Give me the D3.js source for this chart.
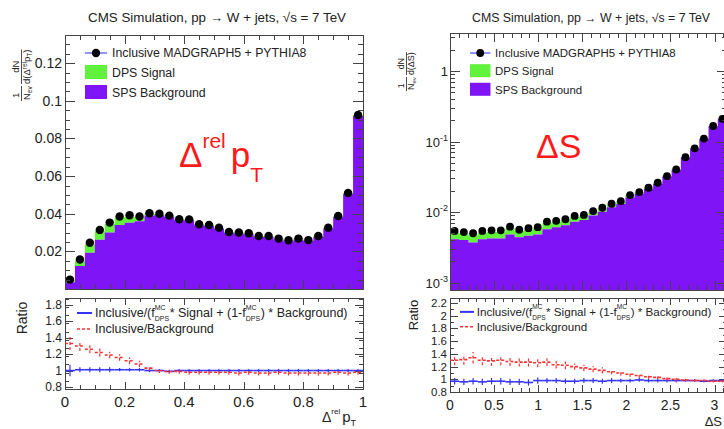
<!DOCTYPE html>
<html><head><meta charset="utf-8">
<script src="https://cdn.jsdelivr.net/npm/d3@7"></script>
<style>
body{margin:0;background:#fff;}
svg{display:block;font-family:"Liberation Sans",Arial,Helvetica,sans-serif;}
</style></head><body>
<svg id="c" width="724" height="429"></svg>
<script>
// ---------------- data ----------------
const titleText = "CMS Simulation, pp \u2192 W + jets, \u221As = 7 TeV";
const legendLabels = ["Inclusive MADGRAPH5 + PYTHIA8", "DPS Signal", "SPS Background"];
const ratioLegendBkg = "Inclusive/Background";

// Δrel pT : 30 bins on [0,1]
const relptInclusive = [0.0050,0.0157,0.0246,0.0314,0.0353,0.0385,0.0392,0.0385,0.0403,0.0400,0.0390,0.0371,0.0370,0.0344,0.0340,0.0326,0.0303,0.0300,0.0296,0.0282,0.0282,0.0268,0.0259,0.0268,0.0260,0.0282,0.0326,0.0388,0.0510,0.0925];
const relptSPS = [0.0036,0.0122,0.0193,0.0262,0.0300,0.0340,0.0352,0.0360,0.0390,0.0392,0.0384,0.0366,0.0365,0.0339,0.0335,0.0321,0.0298,0.0295,0.0291,0.0277,0.0277,0.0263,0.0254,0.0263,0.0255,0.0277,0.0321,0.0383,0.0505,0.0920];
const relptDPS = [0.0012,0.0030,0.0045,0.0045,0.0045,0.0040,0.0032,0.0023,0.0011,0.0006,0.0005,0.0005,0.0005,0.0005,0.0005,0.0005,0.0005,0.0005,0.0005,0.0005,0.0005,0.0005,0.0005,0.0005,0.0005,0.0005,0.0005,0.0005,0.0005,0.0005];
const relptRatioFit = [1.00,1.01,1.01,1.01,1.01,1.01,1.01,1.01,1.00,1.00,0.99,1.00,1.00,1.00,1.00,1.00,1.00,1.00,1.00,1.00,1.00,1.00,1.00,1.00,1.00,1.00,1.00,1.00,1.00,1.00];
const relptRatioFitErr = [0.07,0.03,0.03,0.03,0.03,0.02,0.02,0.02,0.02,0.02,0.02,0.02,0.02,0.02,0.02,0.02,0.02,0.02,0.02,0.02,0.02,0.02,0.02,0.02,0.02,0.02,0.02,0.02,0.02,0.02];
const relptRatioBkg = [1.33,1.30,1.26,1.22,1.19,1.16,1.12,1.08,1.03,1.00,0.99,0.99,0.98,0.98,0.98,0.98,0.98,0.97,0.98,0.97,0.97,0.98,0.97,0.97,0.97,0.97,0.97,0.98,0.97,0.98];
const relptRatioBkgErr = [0.08,0.06,0.05,0.05,0.04,0.04,0.04,0.04,0.03,0.03,0.03,0.03,0.03,0.03,0.03,0.03,0.03,0.03,0.03,0.03,0.03,0.03,0.03,0.03,0.03,0.03,0.03,0.03,0.03,0.03];
const relptYTicks = [0.02,0.04,0.06,0.08,0.1,0.12];
const relptXTicks = [0,0.2,0.4,0.6,0.8,1];
const relptRatioTicks = [0.8,1,1.2,1.4,1.6,1.8];

// ΔS : 30 bins on [0,π]
const dsInclusive = [0.0054,0.0052,0.0050,0.0054,0.0055,0.0055,0.0062,0.0056,0.0059,0.0061,0.0073,0.0075,0.0079,0.0088,0.0091,0.0103,0.0115,0.0131,0.0143,0.0174,0.0192,0.0221,0.0260,0.0323,0.0401,0.0600,0.0800,0.110,0.166,0.210];
const dsSPS = [0.0041,0.0040,0.0037,0.0041,0.0042,0.0042,0.0048,0.0044,0.0046,0.0048,0.0057,0.0061,0.0065,0.0073,0.0077,0.0089,0.0101,0.0117,0.0130,0.0161,0.0181,0.0212,0.0252,0.0318,0.0396,0.0595,0.0795,0.109,0.165,0.208];
const dsDPS = [0.0010,0.0010,0.0010,0.0010,0.0010,0.0010,0.0011,0.0010,0.0010,0.0011,0.0012,0.0012,0.0012,0.0012,0.0012,0.0012,0.0012,0.0012,0.0012,0.0012,0.0011,0.0010,0.0009,0.0008,0.0007,0.0006,0.0005,0.0005,0.0004,0.0004];
const dsRatioFit = [0.97,0.96,0.97,0.96,0.97,0.97,0.96,0.96,0.95,0.98,0.98,0.98,0.97,0.97,0.98,0.98,0.97,0.98,0.98,0.98,0.99,0.98,0.98,0.98,0.98,0.98,0.98,0.97,0.98,0.98];
const dsRatioFitErr = [0.05,0.05,0.05,0.05,0.05,0.05,0.05,0.05,0.05,0.05,0.04,0.04,0.04,0.04,0.04,0.04,0.04,0.04,0.03,0.03,0.03,0.03,0.03,0.03,0.03,0.02,0.02,0.02,0.02,0.02];
const dsRatioBkg = [1.30,1.31,1.34,1.30,1.29,1.30,1.28,1.27,1.27,1.26,1.27,1.23,1.22,1.20,1.18,1.16,1.14,1.12,1.10,1.08,1.06,1.04,1.03,1.01,1.00,0.99,0.98,0.98,0.97,0.97];
const dsRatioBkgErr = [0.08,0.08,0.09,0.08,0.08,0.08,0.07,0.07,0.07,0.07,0.06,0.06,0.06,0.05,0.05,0.05,0.05,0.04,0.04,0.04,0.04,0.03,0.03,0.03,0.03,0.03,0.02,0.02,0.02,0.02];
const dsYTicks = [1e-3,1e-2,1e-1,1];
const dsYTickLabels = [["10","-3"],["10","-2"],["10","-1"],["1",""]];
const dsXTicks = [0,0.5,1,1.5,2,2.5,3];
const dsRatioTicks = [0.8,1,1.2,1.4,1.6,1.8,2,2.2];

// ---------------- drawing ----------------
const PURPLE = "#7f14f7", GREEN = "#63f23c", FRAME = "#444";
const svg = d3.select("#c");

function rich(g, x, y, pieces, color, anchorEnd) {
  const grp = g.append("g");
  let cx = 0;
  pieces.forEach(p => {
    if (p.sup !== undefined) {
      const a = grp.append("text").attr("x", cx).attr("y", -p.up).attr("font-size", p.size).attr("fill", color).text(p.sup);
      const b = grp.append("text").attr("x", cx).attr("y", p.down).attr("font-size", p.size).attr("fill", color).text(p.sub);
      cx += Math.max(a.node().getComputedTextLength(), b.node().getComputedTextLength()) + (p.gap || 0.5);
    } else {
      const t = grp.append("text").attr("x", cx).attr("y", p.dy || 0).attr("font-size", p.size).attr("fill", color).text(p.t);
      cx += t.node().getComputedTextLength() + (p.gap || 0);
    }
  });
  grp.attr("transform", `translate(${anchorEnd ? x - cx : x},${y})`);
  return cx;
}

function drawPanel(o) {
  const g = svg.append("g");
  const n = o.inc.length;
  const edges = d3.range(n + 1).map(i => o.xMax * i / n);
  const x = d3.scaleLinear().domain([0, o.xMax]).range([o.x0, o.x1]);
  const y = o.log ? d3.scaleLog().domain(o.yDom).range([o.yb, o.yt])
                  : d3.scaleLinear().domain(o.yDom).range([o.yb, o.yt]);
  const r = d3.scaleLinear().domain(o.rDom).range([o.rb, o.rt]);

  // stacked histogram
  const stack = d3.stack().keys(["sps", "dps"])(o.sps.map((v, i) => ({sps: v, dps: o.dps[i]})));
  const stepPts = s => s.map((d, i) => ({x0: edges[i], x1: edges[i + 1], lo: d[0], hi: d[1]}));
  const area = d3.area().curve(d3.curveStepAfter)
    .x(d => x(d.e)).y0(d => d.lo <= 0 ? o.yb : y(d.lo)).y1(d => y(d.hi));
  const expand = pts => { const a = pts.map(p => ({e: p.x0, lo: p.lo, hi: p.hi})); const l = pts[pts.length - 1]; a.push({e: l.x1, lo: l.lo, hi: l.hi}); return a; };
  g.append("path").attr("d", area(expand(stepPts(stack[1])))).attr("fill", GREEN);
  g.append("path").attr("d", area(expand(stepPts(stack[0])))).attr("fill", PURPLE);

  // points
  g.selectAll(".pt").data(o.inc).join("circle")
    .attr("cx", (d, i) => x((edges[i] + edges[i + 1]) / 2)).attr("cy", d => y(d))
    .attr("r", o.dotR).attr("fill", "#000");

  // frames
  [[o.yt, o.yb], [o.rt, o.rb]].forEach(([t, b]) => {
    g.append("rect").attr("x", o.x0 + 0.5).attr("y", t + 0.5).attr("width", o.x1 - o.x0).attr("height", b - t)
      .attr("fill", "none").attr("stroke", FRAME).attr("stroke-width", 1);
  });
  const tick = (x1, y1, x2, y2) => g.append("line").attr("x1", x1).attr("y1", y1).attr("x2", x2).attr("y2", y2).attr("stroke", FRAME).attr("stroke-width", 1);
  const xMinor = d3.range(0, o.xMax + 1e-9, o.xMinorStep);
  const xMajor = d3.range(0, o.xMax + 1e-9, o.xMajorStep);
  [[o.yt, o.yb, 9, 5], [o.rt, o.rb, 7, 4]].forEach(([t, b, L, l]) => {
    xMinor.forEach(v => { const px = Math.round(x(v)) + 0.5; tick(px, b, px, b - l); tick(px, t, px, t + l); });
    xMajor.forEach(v => { const px = Math.round(x(v)) + 0.5; tick(px, b, px, b - L); tick(px, t, px, t + L); });
  });
  const yMinor = o.log ? o.logMinor : d3.range(0, o.yDom[1], o.yMinorStep);
  yMinor.forEach(v => { const py = Math.round(y(v)) + 0.5; if (py < o.yt || py > o.yb) return; tick(o.x0, py, o.x0 + 5, py); tick(o.x1, py, o.x1 - 5, py); });
  o.yTicks.forEach(v => { const py = Math.round(y(v)) + 0.5; tick(o.x0, py, o.x0 + 10, py); tick(o.x1, py, o.x1 - 10, py); });
  d3.range(o.rDom[0], o.rDom[1], 0.1).forEach(v => { const py = Math.round(r(v)) + 0.5; if (py < o.rt || py > o.rb) return; tick(o.x0, py, o.x0 + 4, py); tick(o.x1, py, o.x1 - 4, py); });
  o.rTicks.forEach(v => { const py = Math.round(r(v)) + 0.5; tick(o.x0, py, o.x0 + 8, py); tick(o.x1, py, o.x1 - 8, py); });

  // ratio points
  const drawRatio = (vals, errs, color, dash) => {
    vals.forEach((v, i) => {
      const xa = x(edges[i]), xb = x(edges[i + 1]), xc = (xa + xb) / 2;
      g.append("line").attr("x1", xa).attr("x2", xb).attr("y1", r(v)).attr("y2", r(v))
        .attr("stroke", color).attr("stroke-width", 1.6).attr("stroke-dasharray", dash);
      g.append("line").attr("x1", xc).attr("x2", xc).attr("y1", r(v - errs[i])).attr("y2", r(v + errs[i]))
        .attr("stroke", color).attr("stroke-width", 1.2).attr("stroke-dasharray", dash);
    });
  };
  drawRatio(o.rFit, o.rFitErr, "#3434ff", null);
  drawRatio(o.rBkg, o.rBkgErr, "#ff3030", "3,2");

  // tick labels
  o.yTicks.forEach((v, i) => {
    if (o.log) {
      const [base, ex] = o.yTickLabels[i];
      const py = y(v) + 5;
      rich(g, o.x0 - 2, py, ex ? [{t: base, size: 13}, {t: ex, size: 9, dy: -6}] : [{t: base, size: 13}], "#222", true);
    } else {
      g.append("text").attr("x", o.x0 - 3).attr("y", y(v) + 5).attr("text-anchor", "end").attr("font-size", o.yLabSize).attr("fill", "#222").text(d3.format("~g")(v));
    }
  });
  o.rTicks.forEach(v => {
    g.append("text").attr("x", o.x0 - 3).attr("y", r(v) + 4).attr("text-anchor", "end").attr("font-size", o.rLabSize).attr("fill", "#222").text(d3.format("~g")(v));
  });
  o.xTicks.forEach(v => {
    g.append("text").attr("x", x(v)).attr("y", o.rb + 18).attr("text-anchor", "middle").attr("font-size", o.xLabSize).attr("fill", "#222").text(d3.format("~g")(v));
  });

  // title
  g.append("text").attr("x", o.titleX).attr("y", 22).attr("text-anchor", "middle").attr("font-size", o.titleSize).attr("fill", "#222")
    .attr("textLength", o.titleW).attr("lengthAdjust", "spacingAndGlyphs").text(titleText);

  // legend main
  const lx = o.legX, s = o.legScale;
  g.append("line").attr("x1", lx).attr("x2", lx + 22 * s).attr("y1", o.legY).attr("y2", o.legY).attr("stroke", "#4b4bff").attr("stroke-width", 1.2);
  g.append("circle").attr("cx", lx + 11 * s).attr("cy", o.legY).attr("r", o.dotR).attr("fill", "#000");
  g.append("rect").attr("x", lx).attr("y", o.legY + 12 * s).attr("width", 22 * s).attr("height", 14 * s).attr("fill", GREEN);
  g.append("rect").attr("x", lx).attr("y", o.legY + 32 * s).attr("width", 22 * s).attr("height", 14 * s).attr("fill", PURPLE);
  legendLabels.forEach((t, i) => {
    g.append("text").attr("x", lx + 27 * s).attr("y", o.legY + 4 * s + i * 20 * s).attr("font-size", 12.3 * s).attr("fill", "#222").text(t);
  });

  // ratio legend
  const ry = o.rt + 16 * s;
  g.append("line").attr("x1", o.rLegX).attr("x2", o.rLegX + 15 * s).attr("y1", ry - 1).attr("y2", ry - 1).attr("stroke", "#3434ff").attr("stroke-width", 2);
  g.append("line").attr("x1", o.rLegX).attr("x2", o.rLegX + 15 * s).attr("y1", ry + 16 * s - 1).attr("y2", ry + 16 * s - 1).attr("stroke", "#ff3030").attr("stroke-width", 1.5).attr("stroke-dasharray", "3,2");
  const fs = 12.5 * s, ss = 7 * s;
  rich(g, o.rLegX + 18 * s, ry + 3, [
    {t: "Inclusive/(f", size: fs},
    {sup: "MC", sub: "DPS", size: ss, up: 7 * s, down: 4 * s},
    {t: " * Signal + (1-f", size: fs},
    {sup: "MC", sub: "DPS", size: ss, up: 7 * s, down: 4 * s},
    {t: ") * Background)", size: fs}
  ], "#222", false);
  g.append("text").attr("x", o.rLegX + 18 * s).attr("y", ry + 16 * s + 3).attr("font-size", fs).attr("fill", "#222").text(ratioLegendBkg);

  // "Ratio" axis title
  g.append("text").attr("transform", `translate(${o.ratioTitleX},${o.ratioTitleY}) rotate(-90)`).attr("text-anchor", "middle")
    .attr("font-size", 14 * s).attr("fill", "#222").text("Ratio");

  // main y-axis title (rotated fraction)
  const yt = g.append("g").attr("transform", `translate(${o.yTitleX},${o.yTitleY}) rotate(-90)`);
  const f = 9.5 * s;
  yt.append("text").attr("x", 2 * s).attr("y", -2).attr("font-size", f).attr("fill", "#222").text("1");
  yt.append("line").attr("x1", -1).attr("x2", 14 * s).attr("y1", 0.5).attr("y2", 0.5).attr("stroke", "#222").attr("stroke-width", 0.8);
  rich(yt, 0, 9 * s, [{t: "N", size: f}, {t: "ev", size: 6.5 * s, dy: 2}], "#222", false);
  const startX = 16 * s;
  const w = rich(yt, startX, 9 * s, [{t: "d(", size: f}].concat(o.varPieces).concat([{t: ")", size: f}]), "#222", false);
  yt.append("line").attr("x1", startX).attr("x2", startX + w).attr("y1", 0.5).attr("y2", 0.5).attr("stroke", "#222").attr("stroke-width", 0.8);
  yt.append("text").attr("x", startX + w / 2).attr("y", -2).attr("text-anchor", "middle").attr("font-size", f).attr("fill", "#222").text("dN");

  return {g, x, y, r};
}

// left panel
drawPanel({
  inc: relptInclusive, sps: relptSPS, dps: relptDPS,
  rFit: relptRatioFit, rFitErr: relptRatioFitErr, rBkg: relptRatioBkg, rBkgErr: relptRatioBkgErr,
  xMax: 1, x0: 65, x1: 363, yt: 35, yb: 289, rt: 298, rb: 389,
  yDom: [0, 0.135], rDom: [0.775, 1.885], log: false,
  xMinorStep: 0.05, xMajorStep: 0.2, yMinorStep: 0.005,
  yTicks: relptYTicks, rTicks: relptRatioTicks, xTicks: relptXTicks,
  yLabSize: 14, rLabSize: 12, xLabSize: 15,
  titleX: 217, titleSize: 13, titleW: 258,
  legX: 85, legY: 53, legScale: 1, dotR: 4.2,
  rLegX: 77, ratioTitleX: 27, ratioTitleY: 318,
  yTitleX: 21, yTitleY: 100,
  varPieces: [{t: "\u0394", size: 9.5}, {t: "rel", size: 6.5, dy: -3}, {t: " p", size: 9.5}, {t: "T", size: 6.5, dy: 2}]
});
// big red label
rich(svg, 179, 167, [{t: "\u0394", size: 35}, {t: "rel", size: 21, dy: -19, gap: 5}, {t: "p", size: 35}, {t: "T", size: 21, dy: 15}], "#ff1a1a", false);
// x-axis title ratio
rich(svg, 322, 422, [{t: "\u0394", size: 14}, {t: "rel", size: 8, dy: -8, gap: 2}, {t: "p", size: 15}, {t: "T", size: 9, dy: 4}], "#222", false);

// right panel
drawPanel({
  inc: dsInclusive, sps: dsSPS, dps: dsDPS,
  rFit: dsRatioFit, rFitErr: dsRatioFitErr, rBkg: dsRatioBkg, rBkgErr: dsRatioBkgErr,
  xMax: Math.PI, x0: 450, x1: 727, yt: 33, yb: 290, rt: 298, rb: 392,
  yDom: [7.83e-4, 3.46], rDom: [0.8, 2.28], log: true,
  logMinor: [2e-3,3e-3,4e-3,5e-3,6e-3,7e-3,8e-3,9e-3,2e-2,3e-2,4e-2,5e-2,6e-2,7e-2,8e-2,9e-2,0.2,0.3,0.4,0.5,0.6,0.7,0.8,0.9,2,3],
  xMinorStep: 0.1, xMajorStep: 0.5,
  yTicks: dsYTicks, yTickLabels: dsYTickLabels, rTicks: dsRatioTicks, xTicks: dsXTicks,
  yLabSize: 13, rLabSize: 11.5, xLabSize: 14,
  titleX: 591, titleSize: 12, titleW: 238,
  legX: 470, legY: 53, legScale: 0.93, dotR: 3.9,
  rLegX: 460, ratioTitleX: 418, ratioTitleY: 315,
  yTitleX: 406, yTitleY: 90,
  varPieces: [{t: "\u0394S", size: 9}]
});
svg.append("text").attr("x", 536).attr("y", 158).attr("font-size", 34).attr("fill", "#ff1a1a").text("\u0394S");
svg.append("text").attr("x", 722).attr("y", 426).attr("text-anchor", "end").attr("font-size", 13).attr("fill", "#222").text("\u0394S");
</script>
</body></html>
